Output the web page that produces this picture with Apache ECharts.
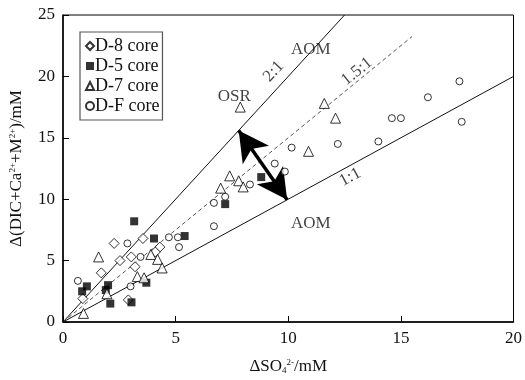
<!DOCTYPE html>
<html>
<head>
<meta charset="utf-8">
<script src="https://cdn.jsdelivr.net/npm/echarts@6/dist/echarts.min.js"></script>
<style>
  html, body { margin: 0; padding: 0; background: #fff; }
  #chart { width: 525px; height: 380px; }
</style>
</head>
<body>
<div id="chart"></div>
<script>
  // data: [ΔSO4, Δ(DIC+Ca+M)]
  const d8Core = [[2.27, 6.4], [3.55, 6.8], [4.3, 6.1], [4.1, 5.7], [2.53, 5.0], [3.03, 5.3],
    [3.2, 4.5], [1.7, 4.0], [0.88, 1.9], [2.9, 1.8]];
  const d5Core = [[3.16, 8.2], [4.04, 6.8], [5.4, 7.0], [3.7, 3.2], [1.06, 2.9], [0.85, 2.5],
    [2.0, 3.0], [1.9, 2.6], [2.1, 1.5], [3.04, 1.6], [8.8, 11.8], [7.2, 9.6]];
  const d7Core = [[7.87, 17.5], [11.6, 17.8], [12.1, 16.6], [10.9, 13.9], [7.4, 11.9], [7.8, 11.5],
    [7.0, 10.9], [8.0, 11.0], [1.58, 5.3], [3.9, 5.5], [4.2, 5.1], [4.4, 4.4], [3.3, 3.7],
    [3.6, 3.6], [1.95, 2.3], [0.91, 0.7]];
  const dFCore = [[17.6, 19.6], [17.7, 16.3], [16.2, 18.3], [14.6, 16.6], [15.0, 16.6], [12.2, 14.5],
    [14.0, 14.7], [10.15, 14.2], [9.4, 12.9], [9.85, 12.25], [6.7, 9.7], [6.7, 7.8], [8.3, 11.2],
    [7.2, 10.2], [5.1, 6.9], [5.15, 6.1], [4.7, 6.9], [2.86, 6.4], [3.44, 5.3], [0.66, 3.35], [3.0, 2.9]];

  // reference lines through the origin: ratio and x where they stop
  const ratios = [2, 1.5, 1];
  const ratioEnds = [12.5, 15.5, 20];
  const ratioLabels = ['2:1', '1.5:1', '1:1'];
  const ratioLabelPos = [[9.35, 20.4], [13.05, 20.4], [12.75, 11.8]];

  // double arrow between the 2:1 and 1:1 lines
  const arrowEnds = [[7.8, 15.6], [9.95, 9.95]];

  // free text in the plot
  const notes = [
    { text: 'AOM', pos: [11.0, 22.2] },
    { text: 'OSR', pos: [7.6, 18.4] },
    { text: 'AOM', pos: [11.0, 8.0] }
  ];

  const xTicks = [0, 5, 10, 15, 20];
  const yTicks = [0, 5, 10, 15, 20, 25];

  const FONT = 'Liberation Serif';
  const chart = echarts.init(document.getElementById('chart'));

  // pixel slope -> rotation of a label along a line
  const pxPerX = 455 / 20, pxPerY = 307 / 25;
  const angleOf = r => Math.atan(r * pxPerY / pxPerX) * 180 / Math.PI;

  const scatter = (name, data, symbol, size, filled) => ({
    name: name,
    type: 'scatter',
    data: data,
    symbol: symbol,
    symbolSize: size,
    itemStyle: filled
      ? { color: '#000', borderColor: '#000', borderWidth: 0 }
      : { color: '#fff', borderColor: '#000', borderWidth: 1 },
    z: 5
  });

  const lineSeries = ratios.map((r, i) => ({
    type: 'line',
    data: [[0, 0], [ratioEnds[i], ratioEnds[i] * r]],
    symbol: 'none',
    silent: true,
    lineStyle: { color: i === 1 ? '#555' : '#111', width: 1, type: i === 1 ? [4, 3] : 'solid' },
    z: 2
  }));

  const textSeries = {
    type: 'scatter',
    symbolSize: 0,
    silent: true,
    data: notes.map(n => ({ value: n.pos, label: { formatter: n.text } }))
      .concat(ratioLabels.map((t, i) => ({
        value: ratioLabelPos[i],
        label: { formatter: t, rotate: angleOf(ratios[i]) }
      }))),
    label: {
      show: true,
      position: 'inside',
      color: '#111',
      fontFamily: FONT,
      fontSize: 17
    },
    z: 6
  };

  const arrowSeries = {
    type: 'line',
    data: [],
    markLine: {
      silent: true,
      symbol: ['arrow', 'arrow'],
      symbolSize: [24, 30],
      label: { show: false },
      lineStyle: { color: '#000', width: 3.5, type: 'solid' },
      data: [[{ coord: arrowEnds[0] }, { coord: arrowEnds[1] }]]
    },
    z: 4
  };

  chart.setOption({
    animation: false,
    grid: {
      left: 60, right: 10, top: 15, bottom: 58,
      show: true, borderColor: '#000', borderWidth: 1, backgroundColor: 'transparent'
    },
    legend: {
      orient: 'vertical',
      left: 80, top: 32,
      data: ['D-8 core', 'D-5 core', 'D-7 core', 'D-F core'],
      itemWidth: 8, itemHeight: 8, itemGap: 2,
      padding: [5, 3, 5, 5],
      borderColor: '#555', borderWidth: 1.2,
      textStyle: { fontFamily: FONT, fontSize: 18, color: '#111', padding: [0, 0, 0, -4] }
    },
    xAxis: {
      type: 'value', min: 0, max: 20, interval: 5,
      name: 'ΔSO{sub|4}{sup|2-}/mM',
      nameLocation: 'middle', nameGap: 36,
      nameTextStyle: {
        fontFamily: FONT, fontSize: 17, color: '#111',
        rich: {
          sub: { fontFamily: FONT, fontSize: 9, verticalAlign: 'bottom', padding: [8, 0, 0, 0] },
          sup: { fontFamily: FONT, fontSize: 9, verticalAlign: 'top', padding: [0, 0, 8, 0] }
        }
      },
      axisLine: { lineStyle: { color: '#000', width: 1.5 } },
      axisTick: { inside: true, length: 6, lineStyle: { color: '#000' } },
      axisLabel: {
        fontFamily: FONT, fontSize: 17, color: '#111', margin: 8,
        formatter: v => xTicks.includes(v) ? String(v) : ''
      },
      splitLine: { show: false }
    },
    yAxis: {
      type: 'value', min: 0, max: 25, interval: 5,
      name: 'Δ(DIC+Ca{sup|2+}+M{sup|2+})/mM',
      nameLocation: 'middle', nameGap: 38, nameRotate: 90,
      nameTextStyle: {
        fontFamily: FONT, fontSize: 17, color: '#111',
        rich: {
          sup: { fontFamily: FONT, fontSize: 9, verticalAlign: 'top', padding: [0, 0, 8, 0] }
        }
      },
      axisLine: { lineStyle: { color: '#000', width: 1.5 } },
      axisTick: { inside: true, length: 6, lineStyle: { color: '#000' } },
      axisLabel: {
        fontFamily: FONT, fontSize: 17, color: '#111', margin: 8,
        formatter: v => yTicks.includes(v) ? String(v) : ''
      },
      splitLine: { show: false }
    },
    series: [
      scatter('D-8 core', d8Core, 'diamond', 10, false),
      scatter('D-5 core', d5Core, 'rect', 8, true),
      scatter('D-7 core', d7Core, 'triangle', 10, false),
      scatter('D-F core', dFCore, 'circle', 7, false)
    ].concat(lineSeries, [textSeries, arrowSeries])
  });
</script>
</body>
</html>
